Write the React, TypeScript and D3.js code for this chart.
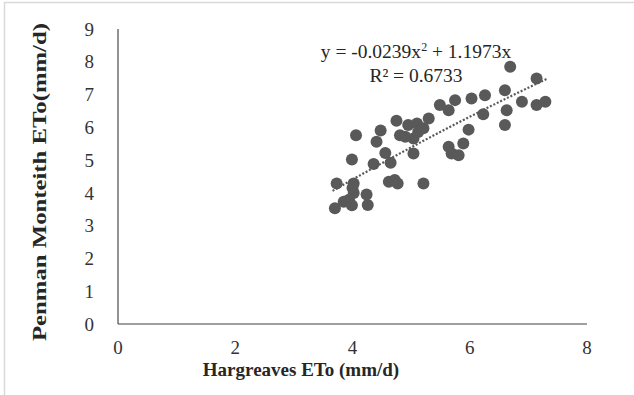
import React from "react";
import * as d3 from "d3";

const hargreaves: number[] = [
  3.70, 3.73, 3.85, 3.94, 3.99, 4.02, 4.02, 3.99, 4.06, 4.24,
  4.26, 4.36, 4.41, 4.48, 4.56, 4.62, 4.65, 4.72, 4.77, 4.75,
  4.81, 4.90, 4.95, 5.04, 5.04, 5.10, 5.12, 5.21, 5.30, 5.21,
  5.49, 5.64, 5.75, 5.64, 5.69, 5.81, 5.89, 5.98, 6.03, 6.26,
  6.23, 6.60, 6.69, 6.63, 6.60, 6.89, 7.14, 7.14, 7.29, 4.00,
];
const penman: number[] = [
  3.53, 4.29, 3.73, 3.79, 3.62, 4.00, 4.29, 5.02, 5.76, 3.95,
  3.63, 4.88, 5.56, 5.90, 5.22, 4.34, 4.92, 4.39, 4.29, 6.20,
  5.76, 5.71, 6.07, 5.66, 5.20, 6.12, 5.86, 5.97, 6.27, 4.29,
  6.68, 6.52, 6.83, 5.41, 5.20, 5.15, 5.51, 5.93, 6.88, 6.98,
  6.40, 7.13, 7.85, 6.52, 6.07, 6.78, 7.49, 6.68, 6.78, 4.15,
];
const xTicks: number[] = [0, 2, 4, 6, 8];
const yTicks: number[] = [0, 1, 2, 3, 4, 5, 6, 7, 8, 9];
const trendA = -0.0239;
const trendB = 1.1973;
const trendRange: number[] = [3.66, 7.31];

const W = 634;
const H = 395;

export default function App() {
  const x = d3.scaleLinear().domain([0, 8]).range([118, 587]);
  const y = d3.scaleLinear().domain([0, 9]).range([324, 29]);
  const pts = hargreaves.map((h, i) => ({ h, p: penman[i] }));
  const trendPts = d3.range(trendRange[0], trendRange[1] + 0.001, 0.05).map((v) => [v, trendA * v * v + trendB * v] as [number, number]);
  const line = d3.line<[number, number]>().x((d) => x(d[0])).y((d) => y(d[1]));
  const serif = "'Liberation Serif', 'Times New Roman', serif";
  return (
    <svg width={W} height={H} style={{ position: "absolute", left: 0, top: 0 }} fontFamily={serif}>
      <rect x={0} y={0} width={W} height={H} fill="#fff" />
      <rect x={4.5} y={2.5} width={W + 10} height={H + 10} fill="none" stroke="#d9d9d9" strokeWidth={1.5} />
      <line x1={x(0)} x2={x(0)} y1={y(9)} y2={y(0)} stroke="#262626" strokeWidth={1} />
      <line x1={x(0)} x2={x(8)} y1={y(0)} y2={y(0)} stroke="#404040" strokeWidth={1.2} />
      {yTicks.map((t) => (
        <text key={"y" + t} x={94} y={y(t)} dy="0.35em" textAnchor="end" fontSize={19} fill="#333">{t}</text>
      ))}
      {xTicks.map((t) => (
        <text key={"x" + t} x={x(t)} y={354} textAnchor="middle" fontSize={19} fill="#333">{t}</text>
      ))}
      <text x={301} y={376} textAnchor="middle" fontSize={19} fontWeight="bold" fill="#262626">Hargreaves ETo (mm/d)</text>
      <text transform="translate(46,182) rotate(-90)" textAnchor="middle" fontSize={19} fontWeight="bold" fill="#262626" textLength={318} lengthAdjust="spacingAndGlyphs">Penman Monteith ETo(mm/d)</text>
      {pts.map((d, i) => (
        <circle key={i} cx={x(d.h)} cy={y(d.p)} r={6} fill="#595959" />
      ))}
      <path d={line(trendPts) || ""} fill="none" stroke="#595959" strokeWidth={2.2} strokeDasharray="2 1.8" />
      <text x={416} y={58} textAnchor="middle" fontSize={19.5} fill="#262626">
        y = -0.0239x<tspan dy={-7} fontSize={12}>2</tspan><tspan dy={7}> + 1.1973x</tspan>
      </text>
      <text x={416} y={82} textAnchor="middle" fontSize={19.5} fill="#262626">R² = 0.6733</text>
    </svg>
  );
}
